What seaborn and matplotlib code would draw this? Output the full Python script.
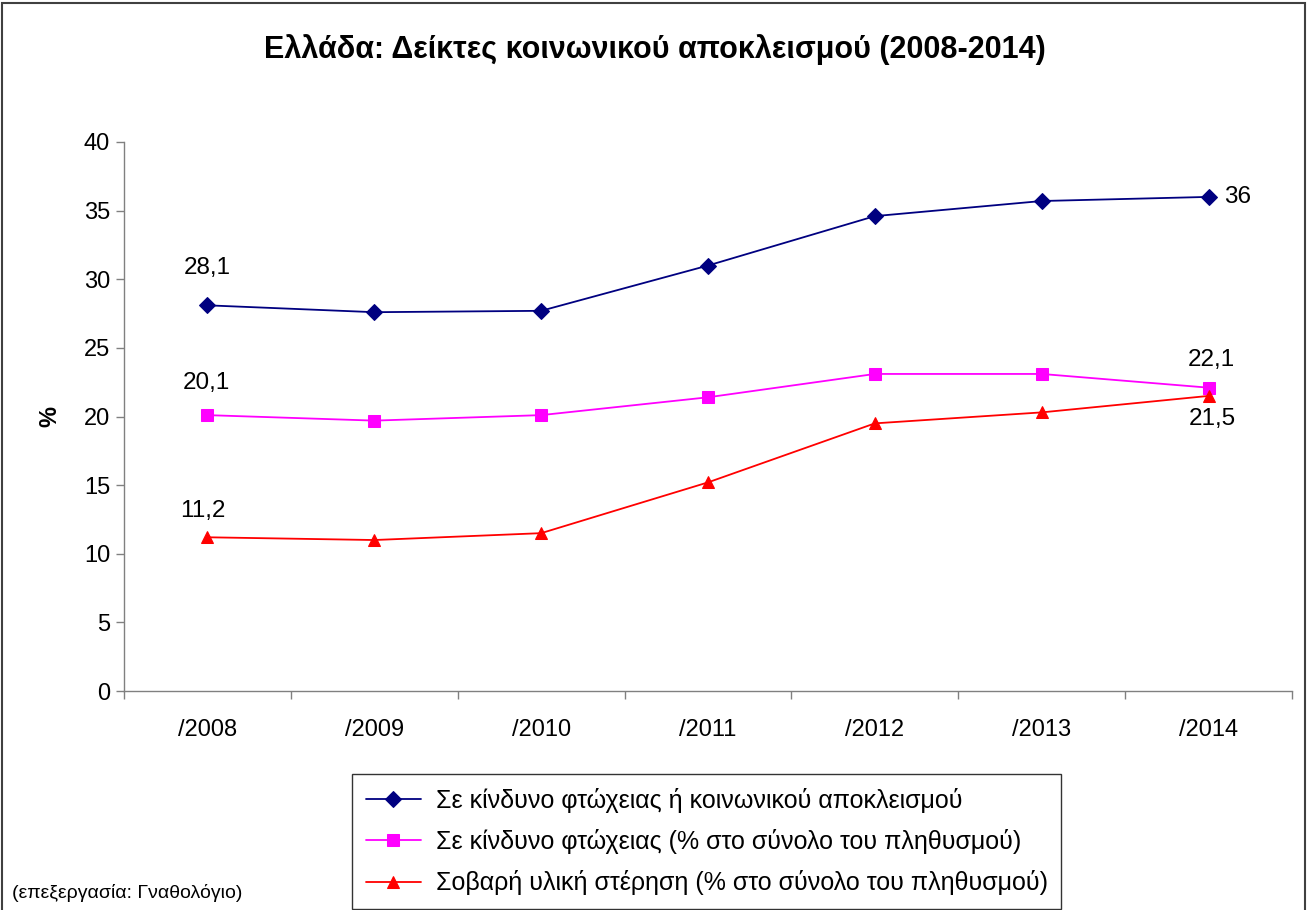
import matplotlib
matplotlib.use("Agg")
import matplotlib.pyplot as plt
import seaborn as sns
import pandas as pd
from matplotlib.patches import Rectangle
from matplotlib.ticker import FixedLocator

years = ["/2008", "/2009", "/2010", "/2011", "/2012", "/2013", "/2014"]
risk_poverty_exclusion = [28.1, 27.6, 27.7, 31.0, 34.6, 35.7, 36.0]
risk_poverty = [20.1, 19.7, 20.1, 21.4, 23.1, 23.1, 22.1]
material_deprivation = [11.2, 11.0, 11.5, 15.2, 19.5, 20.3, 21.5]
series_names = [
    "Σε κίνδυνο φτώχειας ή κοινωνικού αποκλεισμού",
    "Σε κίνδυνο φτώχειας (% στο σύνολο του πληθυσμού)",
    "Σοβαρή υλική στέρηση (% στο σύνολο του πληθυσμού)",
]
title = "Ελλάδα: Δείκτες κοινωνικού αποκλεισμού (2008-2014)"
source = "(επεξεργασία: Γναθολόγιο)"

sns.set_theme(style="white")
plt.rcParams['font.family'] = ['Liberation Sans', 'DejaVu Sans']
plt.rcParams['text.color'] = 'black'
plt.rcParams['axes.labelcolor'] = 'black'
plt.rcParams['xtick.labelcolor'] = 'black'
plt.rcParams['ytick.labelcolor'] = 'black'

fig = plt.figure(figsize=(13.1, 9.1), dpi=100)
ax = fig.add_axes([124/1310, 1-691/910, (1292-124)/1310, (691-142)/910])

colors = ["#000080", "#FF00FF", "#FF0000"]
markers = ["D", "s", "^"]
msizes = [8, 8, 9]
values = [risk_poverty_exclusion, risk_poverty, material_deprivation]
idx = list(range(len(years)))
for name, vals, c, m, ms in zip(series_names, values, colors, markers, msizes):
    df = pd.DataFrame({"x": idx, "y": vals})
    sns.lineplot(data=df, x="x", y="y", ax=ax, color=c, marker=m, markersize=ms,
                 markeredgecolor=c, linewidth=1.3, label=name)

ax.set_xlim(-0.5, len(years) - 0.5)
ax.set_ylim(0, 40)
ax.set_yticks(range(0, 41, 5))
ax.set_xticks(idx)
ax.set_xticklabels(years)
ax.xaxis.set_minor_locator(FixedLocator([i - 0.5 for i in range(len(years) + 1)]))
ax.tick_params(axis="x", which="major", length=0, pad=20, labelsize=17)
ax.tick_params(axis="x", which="minor", length=6, width=1, color="#808080", direction="out", bottom=True)
ax.tick_params(axis="y", length=6, width=1, color="#808080", direction="out", left=True, labelsize=17, pad=4)
ax.set_xlabel("")
ax.set_ylabel("%", fontsize=17, fontweight="bold", labelpad=16)

for s in ["top", "right"]:
    ax.spines[s].set_visible(False)
for s in ["left", "bottom"]:
    ax.spines[s].set_color("#808080")
    ax.spines[s].set_linewidth(1)

fs = 17.5
ax.annotate("28,1", (0, risk_poverty_exclusion[0]), xytext=(0, 19), textcoords="offset points", ha="center", va="bottom", fontsize=fs)
ax.annotate("20,1", (0, risk_poverty[0]), xytext=(-1, 15), textcoords="offset points", ha="center", va="bottom", fontsize=fs)
ax.annotate("11,2", (0, material_deprivation[0]), xytext=(-3, 11), textcoords="offset points", ha="center", va="bottom", fontsize=fs)
ax.annotate("36", (6, risk_poverty_exclusion[-1]), xytext=(11, 0), textcoords="offset points", ha="left", va="center", fontsize=fs)
ax.annotate("22,1", (6, risk_poverty[-1]), xytext=(2, 12), textcoords="offset points", ha="center", va="bottom", fontsize=fs)
ax.annotate("21,5", (6, material_deprivation[-1]), xytext=(3, -9), textcoords="offset points", ha="center", va="top", fontsize=fs)

leg = ax.legend(loc="center", bbox_to_anchor=((347+1066)/2/1310, 1-(777+906)/2/910), bbox_transform=fig.transFigure,
                frameon=True, fancybox=False, fontsize=18, handlelength=2.2, labelspacing=0.65,
                borderpad=0.55, handletextpad=0.6, borderaxespad=0)
leg.get_frame().set_edgecolor("black")
leg.get_frame().set_linewidth(1)

fig.suptitle(title, x=0.5, y=1-50/910, va="center", fontsize=22, fontweight="bold", color="black")
fig.text(12/1310, 1-893/910, source, fontsize=14, ha="left", va="center")

fig.patches.append(Rectangle((2/1310, -0.01), 1303/1310, 1-3/910 + 0.01, transform=fig.transFigure,
                             fill=False, edgecolor="#404040", linewidth=1.5))

fig.savefig("out.png", dpi=100, facecolor="white")
